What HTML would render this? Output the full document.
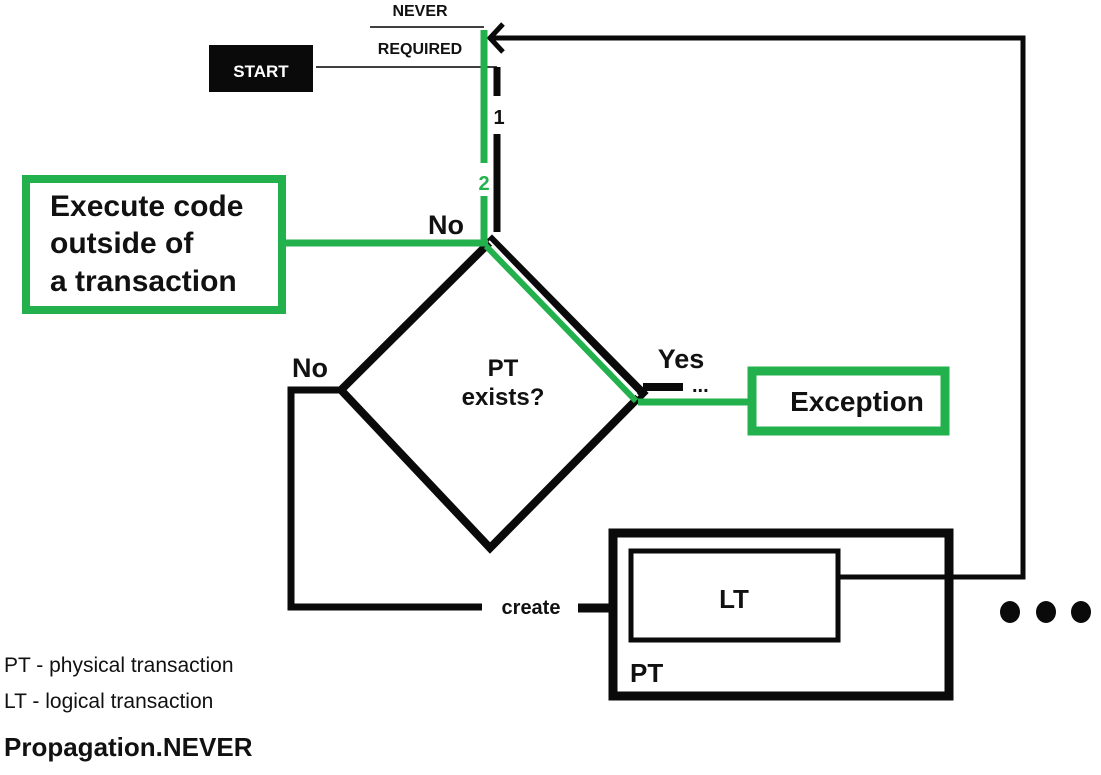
<!DOCTYPE html>
<html><head><style>
body{margin:0;background:#fff;width:1101px;height:770px;overflow:hidden}
svg text{font-family:"Liberation Sans",sans-serif;font-weight:bold;fill:#111}
</style></head><body>
<svg width="1101" height="770" viewBox="0 0 1101 770">
<rect x="209" y="45" width="104" height="47" fill="#0a0a0a"/>
<text x="261" y="77" font-size="17" style="fill:#fff" text-anchor="middle">START</text>
<line x1="316" y1="67" x2="497" y2="67" stroke="#000" stroke-width="1.5"/>
<text x="420" y="16" font-size="16" text-anchor="middle">NEVER</text>
<line x1="370" y1="27" x2="484" y2="27" stroke="#000" stroke-width="1.5"/>
<text x="420" y="54" font-size="16" text-anchor="middle">REQUIRED</text>
<polyline points="490,38 1023,38 1023,577 840,577" fill="none" stroke="#0a0a0a" stroke-width="5"/>
<polyline points="503,24 490,38 503,52" fill="none" stroke="#0a0a0a" stroke-width="5"/>
<line x1="484" y1="30" x2="484" y2="163" stroke="#22b14c" stroke-width="7"/>
<line x1="484" y1="196" x2="484" y2="245" stroke="#22b14c" stroke-width="7"/>
<text x="484" y="190" font-size="20" text-anchor="middle" style="fill:#22b14c">2</text>
<line x1="497" y1="67" x2="497" y2="96" stroke="#0a0a0a" stroke-width="7"/>
<line x1="497" y1="134" x2="497" y2="232" stroke="#0a0a0a" stroke-width="7"/>
<text x="499" y="124" font-size="20" text-anchor="middle">1</text>
<polygon points="492,240 643,393 490,548 341,390" fill="none" stroke="#0a0a0a" stroke-width="8" stroke-linejoin="miter"/>
<line x1="486" y1="246" x2="636" y2="401" stroke="#22b14c" stroke-width="6"/>
<line x1="489" y1="241" x2="638" y2="396" stroke="#fff" stroke-width="2"/>
<text x="503" y="376" font-size="24" text-anchor="middle">PT</text>
<text x="503" y="405" font-size="24" text-anchor="middle">exists?</text>
<rect x="26" y="179" width="256" height="131" fill="none" stroke="#22b14c" stroke-width="8"/>
<text x="50" y="216" font-size="30">Execute code</text>
<text x="50" y="253" font-size="30">outside of</text>
<text x="50" y="291" font-size="30">a transaction</text>
<line x1="286" y1="243" x2="488" y2="243" stroke="#22b14c" stroke-width="7"/>
<text x="446" y="234" font-size="27" text-anchor="middle">No</text>
<line x1="643" y1="387" x2="683" y2="387" stroke="#0a0a0a" stroke-width="8"/>
<text x="692" y="392" font-size="20">...</text>
<text x="681" y="368" font-size="27" text-anchor="middle">Yes</text>
<line x1="638" y1="402" x2="750" y2="402" stroke="#22b14c" stroke-width="7"/>
<rect x="752" y="371" width="193" height="60" fill="none" stroke="#22b14c" stroke-width="9"/>
<text x="857" y="411" font-size="28" text-anchor="middle">Exception</text>
<polyline points="341,390 291,390 291,607 482,607" fill="none" stroke="#0a0a0a" stroke-width="7"/>
<text x="310" y="377" font-size="27" text-anchor="middle">No</text>
<text x="531" y="614" font-size="20" text-anchor="middle">create</text>
<line x1="578" y1="608" x2="612" y2="608" stroke="#0a0a0a" stroke-width="9"/>
<rect x="613" y="533" width="336" height="163" fill="none" stroke="#0a0a0a" stroke-width="9"/>
<rect x="631" y="551" width="207" height="89" fill="none" stroke="#0a0a0a" stroke-width="5"/>
<text x="734" y="608" font-size="26" text-anchor="middle">LT</text>
<text x="630" y="682" font-size="26">PT</text>
<ellipse cx="1010" cy="612" rx="10" ry="11" fill="#0a0a0a"/>
<ellipse cx="1046" cy="612" rx="10" ry="11" fill="#0a0a0a"/>
<ellipse cx="1081" cy="612" rx="10" ry="11" fill="#0a0a0a"/>
<text x="4" y="672" font-size="21" style="font-weight:normal">PT - physical transaction</text>
<text x="4" y="708" font-size="21" style="font-weight:normal">LT - logical transaction</text>
<text x="4" y="756" font-size="26">Propagation.NEVER</text>
</svg>
</body></html>
